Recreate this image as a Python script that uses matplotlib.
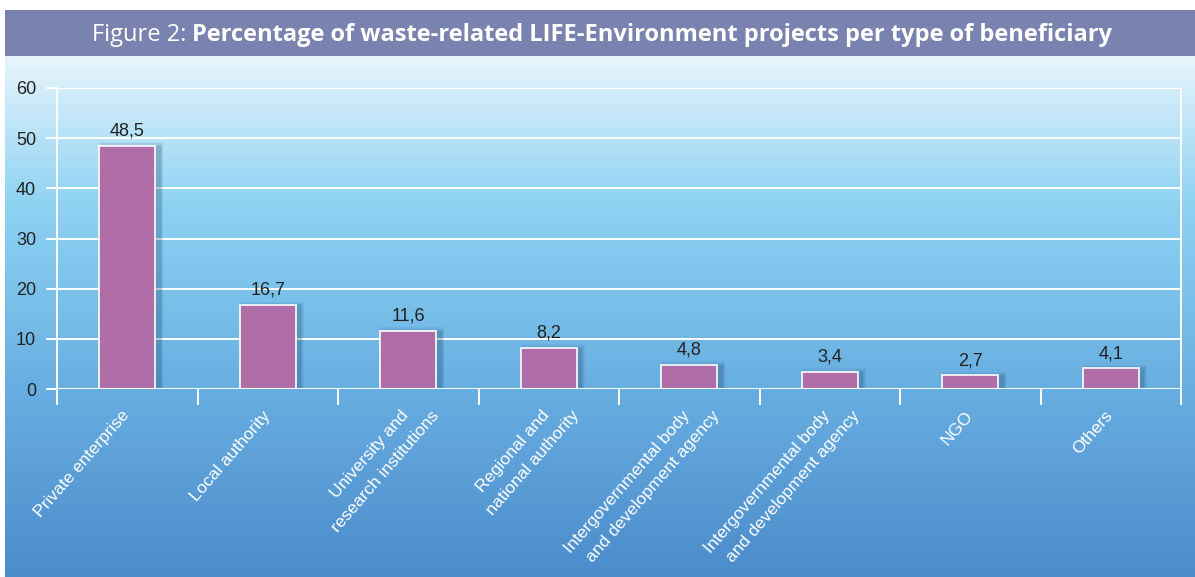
import numpy as np
import matplotlib
matplotlib.use("Agg")
import matplotlib.pyplot as plt
from matplotlib.colors import LinearSegmentedColormap
from matplotlib.patches import Rectangle

# ── Data ─────────────────────────────────────────────────────────────
categories = [
    "Private enterprise",
    "Local authority",
    "University and\nresearch institutions",
    "Regional and\nnational authority",
    "Intergovernmental body\nand development agency",
    "Intergovernmental body\nand development agency",
    "NGO",
    "Others",
]
values = [48.5, 16.7, 11.6, 8.2, 4.8, 3.4, 2.7, 4.1]
y_ticks = [0, 10, 20, 30, 40, 50, 60]

TITLE_LIGHT = "Figure 2: "
TITLE_BOLD = "Percentage of waste-related LIFE-Environment projects per type of beneficiary"

# ── Style ────────────────────────────────────────────────────────────
W, H, DPI = 1195, 577, 100
BAR_COLOR = "#b06ea8"
BANNER_COLOR = "#7a83b0"
TEXT_DARK = "#222222"
SANS = ["Liberation Sans", "DejaVu Sans"]
TITLE_FONT = ["Open Sans", "DejaVu Sans"]

fig = plt.figure(figsize=(W / DPI, H / DPI), dpi=DPI)
fig.patch.set_facecolor("white")

# background gradient (figure level)
bg = fig.add_axes([5 / W, 0, 1 - 5 / W, (H - 56) / H], zorder=0)
grad_cmap = LinearSegmentedColormap.from_list("sky", [
    (0.00, "#e6f5fc"),
    (0.12, "#c1e6f8"),
    (0.28, "#8fd3f3"),
    (0.47, "#79c0ea"),
    (0.64, "#67aee1"),
    (0.82, "#5a9dd6"),
    (1.00, "#4b8ccb"),
])
bg.imshow(np.linspace(0, 1, 256).reshape(-1, 1), aspect="auto", cmap=grad_cmap,
          extent=[0, 1, 0, 1])
bg.set_axis_off()

# title banner
banner = fig.add_axes([5 / W, (H - 56) / H, 1 - 5 / W, 46 / H], zorder=1)
banner.add_patch(Rectangle((0, 0), 1, 1, color=BANNER_COLOR, transform=banner.transAxes))
banner.set_axis_off()

# ── Main axes ────────────────────────────────────────────────────────
ax = fig.add_axes([57 / W, (H - 389) / H, (1181 - 57) / W, 301 / H], zorder=2)
ax.patch.set_alpha(0)

x = np.arange(len(values)) + 0.5

# soft drop shadow behind bars
for k, a in enumerate([0.05, 0.06, 0.08, 0.10]):
    grow = 0.014 * (4 - k)
    ax.bar(x + 0.03, np.array(values) + 0.25 * (4 - k), width=0.4 + grow,
           bottom=-0.3, color="#0d2d55", alpha=a, linewidth=0, zorder=2)

ax.bar(x, values, width=0.4, color=BAR_COLOR, edgecolor="white",
       linewidth=1.2, zorder=3)

for xi, v in zip(x, values):
    ax.annotate(f"{v:.1f}".replace(".", ","), xy=(xi, v), xytext=(0, 4.5),
                textcoords="offset points", ha="center", va="bottom",
                fontsize=13, color=TEXT_DARK, family=SANS)

# grid lines
for yv in y_ticks[1:]:
    ax.axhline(yv, color="white", linewidth=1.4, zorder=1)
ax.axhline(0, color="#f4f8fb", linewidth=2.2, zorder=4)

ax.set_xlim(0, len(values))
ax.set_ylim(0, 60)
ax.set_yticks(y_ticks)
ax.set_yticklabels([str(t) for t in y_ticks], fontsize=13, color=TEXT_DARK,
                   family=SANS)
ax.set_xticks(np.arange(len(values) + 1))
ax.set_xticklabels([])
ax.tick_params(axis="y", length=8, width=1.4, color="white", pad=7)
ax.tick_params(axis="x", length=11.5, width=1.4, color="white")

for side in ["top", "bottom"]:
    ax.spines[side].set_visible(False)
for side in ["left", "right"]:
    ax.spines[side].set_color("white")
    ax.spines[side].set_linewidth(1.4)

# rotated category labels, one text per line
for xi, lab in zip(x, categories):
    lines = lab.split("\n")
    base = -6 if len(lines) == 1 else -8
    for j, line in enumerate(lines):
        ax.annotate(line, xy=(xi, 0), xycoords="data",
                    xytext=(base + 30 * j, -19), textcoords="offset pixels",
                    rotation=49, rotation_mode="anchor", ha="right", va="top",
                    fontsize=12.5, color="white", family=SANS,
                    annotation_clip=False)

# title: light part + bold part, centred as one line
ty = (H - 35) / H
t1 = fig.text(0, ty, TITLE_LIGHT, color="white", fontsize=17,
              family=TITLE_FONT, fontweight="normal", va="center", zorder=5)
t2 = fig.text(0, ty, TITLE_BOLD, color="white", fontsize=17,
              family=TITLE_FONT, fontweight="bold", va="center", zorder=5)
fig.canvas.draw()
w1 = t1.get_window_extent().width
w2 = t2.get_window_extent().width
x0 = 602 - (w1 + w2) / 2
t1.set_x(x0 / W)
t2.set_x((x0 + w1) / W)

fig.savefig("out.png", dpi=DPI)
